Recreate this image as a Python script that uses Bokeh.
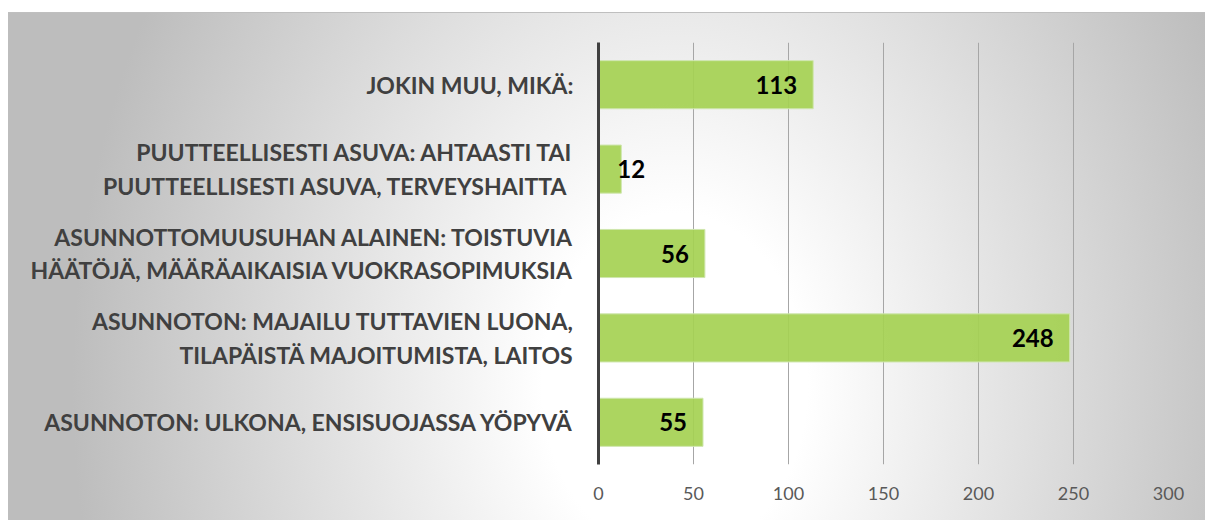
from bokeh.plotting import figure
from bokeh.models import ColumnDataSource, FactorRange, FixedTicker, Range1d
from bokeh.embed import file_html
from bokeh.resources import INLINE
from bokeh.core.properties import value

categories = [
    "JOKIN MUU, MIKÄ:",
    "PUUTTEELLISESTI ASUVA: AHTAASTI TAI\nPUUTTEELLISESTI ASUVA,  TERVEYSHAITTA",
    "ASUNNOTTOMUUSUHAN ALAINEN: TOISTUVIA\nHÄÄTÖJÄ, MÄÄRÄAIKAISIA VUOKRASOPIMUKSIA",
    "ASUNNOTON: MAJAILU TUTTAVIEN LUONA,\nTILAPÄISTÄ MAJOITUMISTA, LAITOS",
    "ASUNNOTON: ULKONA, ENSISUOJASSA YÖPYVÄ",
]
counts = [113, 12, 56, 248, 55]
x_ticks = [0, 50, 100, 150, 200, 250, 300]

# value labels sit inside the bar end; very short bars keep a minimum anchor
label_x = [max(c, 33) for c in counts]
src = ColumnDataSource(dict(cat=categories, val=counts, lx=label_x,
                            txt=[str(c) for c in counts]))

p = figure(width=1205, height=520,
           y_range=FactorRange(factors=categories[::-1]),
           x_range=Range1d(0, 300),
           output_backend="svg", toolbar_location=None,
           min_border_left=598, min_border_right=37,
           min_border_top=42, min_border_bottom=56)

p.background_fill_alpha = 0
p.border_fill_alpha = 0
p.outline_line_color = None
p.styles = {
    "background": "linear-gradient(#ffffff,#ffffff) 0 0 / 100% 12px no-repeat, "
                  "linear-gradient(#ffffff,#ffffff) 0 0 / 8px 100% no-repeat, "
                  "linear-gradient(#bfbfbf,#bfbfbf) 8px 12px / 100% 1px no-repeat, "
                  "radial-gradient(ellipse 50% 150% at 56% 74%, #ffffff 0%, #ffffff 22%, #bdbdbd 100%)"
}

p.hbar(y="cat", right="val", left=0, height=0.57, source=src,
       fill_color="#a5d152", fill_alpha=0.92, line_color="#cfe6ae", line_width=1)
p.text(x="lx", y="cat", text="txt", source=src, text_align="right",
       text_baseline="middle", x_offset=-16, text_font=value("Lato"),
       text_font_style="bold", text_font_size="24px", text_color="black")

p.xgrid.ticker = FixedTicker(ticks=x_ticks)
p.xgrid.grid_line_color = "#a6a6a6"
p.ygrid.grid_line_color = None

p.xaxis.ticker = FixedTicker(ticks=x_ticks)
p.xaxis.axis_line_color = None
p.xaxis.major_tick_line_color = None
p.xaxis.minor_tick_line_color = None
p.xaxis.major_label_standoff = 16
p.xaxis.major_label_text_font = "Lato"
p.xaxis.major_label_text_font_size = "18px"
p.xaxis.major_label_text_color = "#595959"

p.yaxis.axis_line_width = 3
p.yaxis.axis_line_color = "#404040"
p.yaxis.major_tick_line_color = None
p.yaxis.minor_tick_line_color = None
p.yaxis.major_label_standoff = 19
p.yaxis.major_label_text_font = "Lato"
p.yaxis.major_label_text_font_style = "bold"
p.yaxis.major_label_text_font_size = "23px"
p.yaxis.major_label_text_color = "#404040"

open("out.html", "w").write(file_html(p, INLINE))
